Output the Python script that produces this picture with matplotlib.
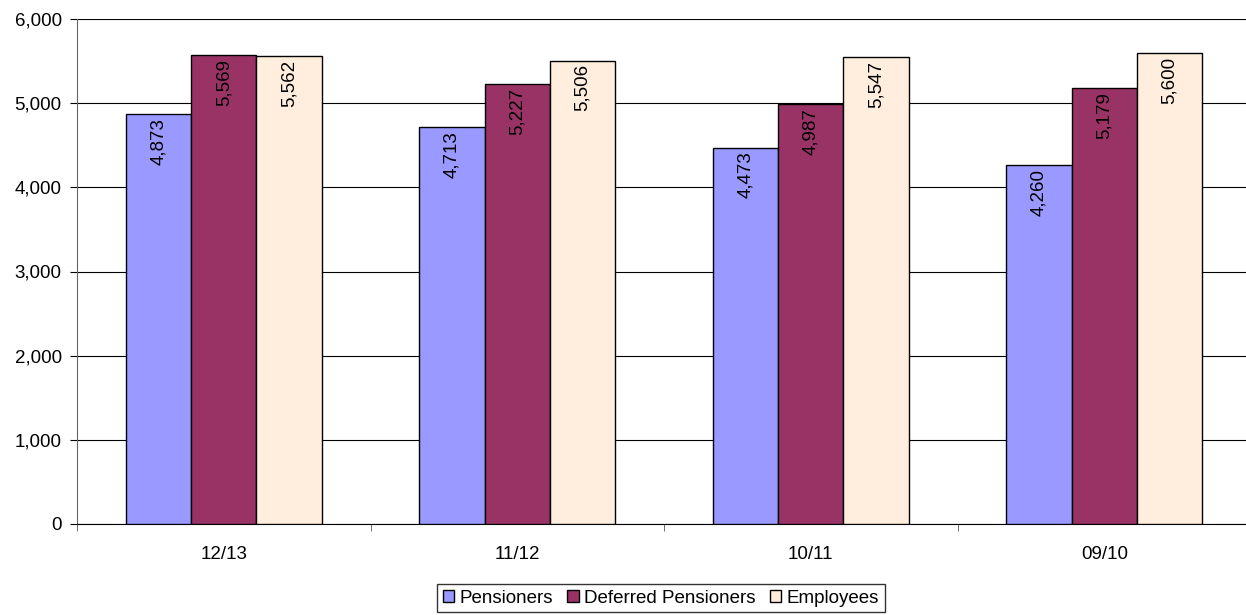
import matplotlib
matplotlib.use("Agg")
import matplotlib.pyplot as plt
import numpy as np

categories = ["12/13", "11/12", "10/11", "09/10"]
series_names = ["Pensioners", "Deferred Pensioners", "Employees"]
pensioners = [4873, 4713, 4473, 4260]
deferred = [5569, 5227, 4987, 5179]
employees = [5562, 5506, 5547, 5600]
colors = ["#9999FF", "#993366", "#FFEEDD"]

plt.rcParams['font.family'] = ['Liberation Sans', 'DejaVu Sans']
FS = 13.5

fig = plt.figure(figsize=(12.46, 6.15), dpi=100)
ax = fig.add_axes([77/1246, 91/615, 1174/1246, 505/615])

x = np.arange(len(categories))
w = 0.223
data = [pensioners, deferred, employees]
for i, (vals, name, c) in enumerate(zip(data, series_names, colors)):
    pos = x + (i - 1) * w
    ax.bar(pos, vals, width=w, color=c, edgecolor="black", linewidth=1.0, label=name, zorder=3)
    for p, v in zip(pos, vals):
        ax.text(p, v - 45, f"{v:,}", rotation=90, ha="center", va="top", fontsize=FS, zorder=4)

ax.set_xlim(-0.5, len(categories) - 0.5)
ax.set_ylim(0, 6000)
ax.set_yticks(range(0, 6001, 1000))
ax.set_yticklabels([f"{v:,}" for v in range(0, 6001, 1000)], fontsize=FS)
ax.yaxis.grid(True, color="black", linewidth=0.8, zorder=0)
ax.set_xticks(x)
ax.set_xticklabels(categories, fontsize=FS)
ax.tick_params(axis="x", length=0, pad=16)
ax.set_xticks(np.arange(-0.5, len(categories)), minor=True)
ax.tick_params(axis="x", which="minor", length=5, color="#555555")
ax.tick_params(axis="y", length=5, color="black", pad=6)
for s in ["top", "right"]:
    ax.spines[s].set_visible(False)
ax.spines["left"].set_color("#666666")
ax.spines["bottom"].set_color("black")

leg = fig.legend(loc="lower center", bbox_to_anchor=(661/1246, -0.011), ncol=3, frameon=True,
                 fontsize=FS, handlelength=0.6, handleheight=0.6, handletextpad=0.3,
                 columnspacing=0.75, borderpad=0.3, fancybox=False, edgecolor="black")
leg.get_frame().set_linewidth(1.0)

fig.savefig("out.png", dpi=100)
